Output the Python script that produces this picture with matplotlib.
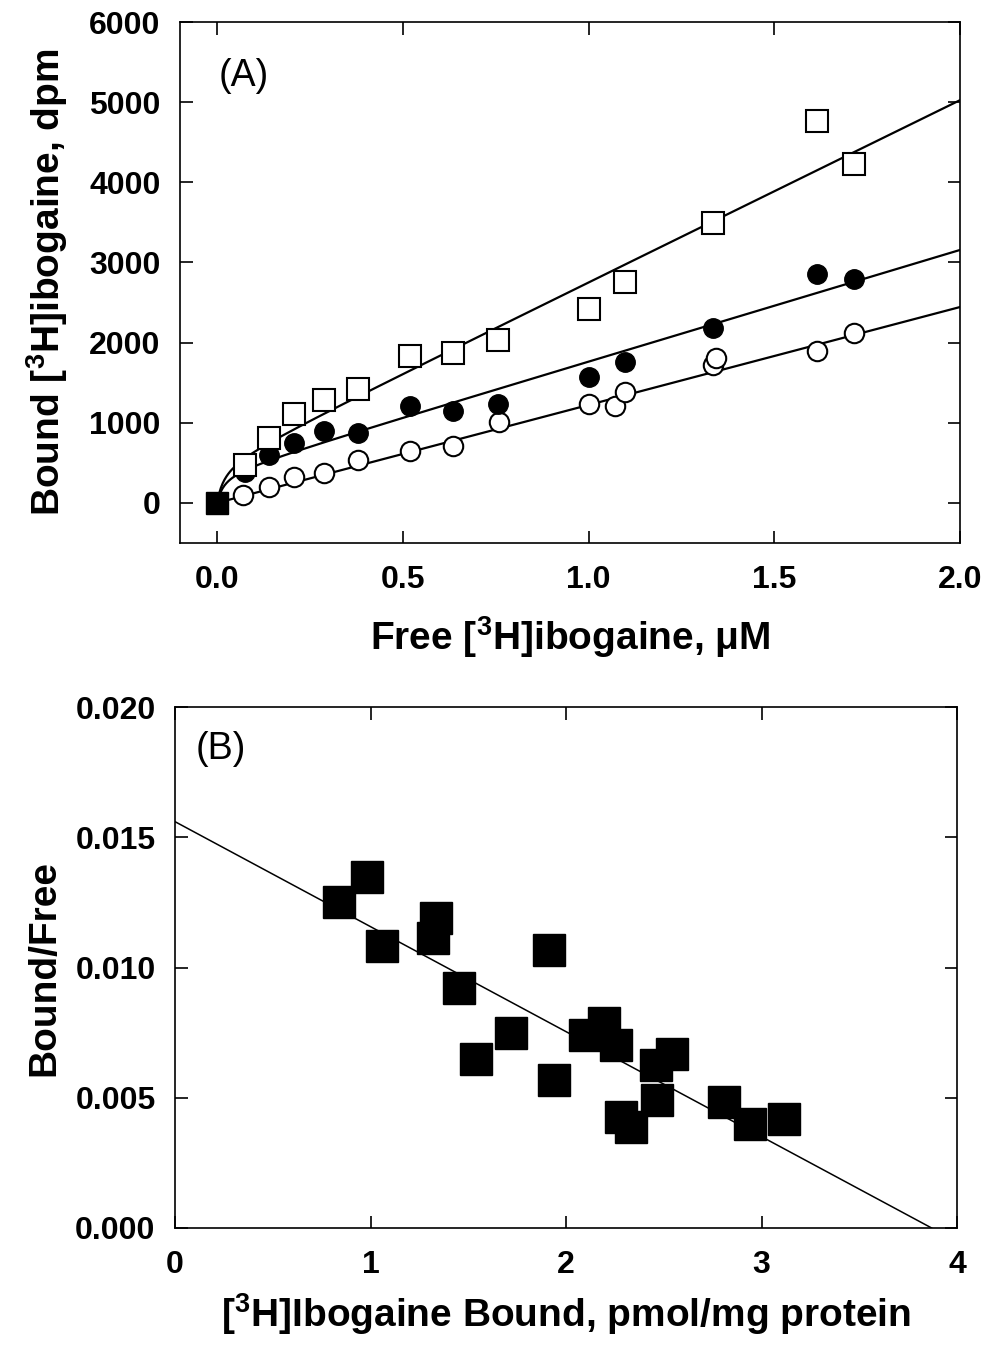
import numpy as np
import matplotlib
matplotlib.use("Agg")
import matplotlib.pyplot as plt

plt.rcParams['font.family'] = ['Liberation Sans', 'DejaVu Sans']
plt.rcParams['mathtext.fontset'] = 'custom'
plt.rcParams['mathtext.rm'] = 'Liberation Sans:bold'
plt.rcParams['mathtext.default'] = 'rm'

## Panel A: saturation data
free_sq = [0.074, 0.141, 0.208, 0.289, 0.379, 0.518, 0.635, 0.756, 1.0, 1.098, 1.335, 1.615, 1.714]
total = [470, 814, 1110, 1278, 1426, 1827, 1869, 2038, 2418, 2755, 3494, 4760, 4232]

free_fc = [0.074, 0.141, 0.208, 0.289, 0.379, 0.518, 0.635, 0.756, 1.0, 1.098, 1.335, 1.615, 1.714]
mid = [380, 603, 751, 899, 878, 1215, 1152, 1236, 1574, 1764, 2177, 2861, 2797]

free_oc = [0.07, 0.141, 0.208, 0.289, 0.379, 0.518, 0.635, 0.76, 1.0, 1.071, 1.098, 1.335, 1.344, 1.615, 1.714]
nonspec = [97, 200, 329, 371, 540, 646, 709, 1004, 1236, 1215, 1384, 1720, 1806, 1890, 2122]

## fitted parameters (one site + linear)
fit_total = (490, 0.02, 2270)   # Bmax, Kd, slope
fit_mid = (380, 0.02, 1390)
fit_ns = (0, 0.02, 1222)

## Panel B: Scatchard data
bound_b = [0.838, 0.983, 1.06, 1.337, 1.321, 1.45, 1.538, 1.721, 1.911, 1.94,
           2.098, 2.192, 2.258, 2.282, 2.33, 2.459, 2.541, 2.467, 2.808, 2.94, 3.117]
ratio_b = [0.0125, 0.01349, 0.01081, 0.01192, 0.01115, 0.0092, 0.00647, 0.0075, 0.01068, 0.0057,
           0.0074, 0.00787, 0.00701, 0.00426, 0.00387, 0.00624, 0.00669, 0.0049, 0.00483, 0.004, 0.00419]
scat_intercept = 0.0156
scat_xint = 3.87


def fit_curve(x, p):
    bmax, kd, m = p
    return bmax * x / (kd + x) + m * x


def style_axes(ax):
    ax.tick_params(direction='in', length=9, width=1.2, top=True, right=True,
                   labelsize=23)
    ax.tick_params(axis='y', pad=14)
    ax.tick_params(axis='x', pad=16)
    for lab in ax.get_xticklabels() + ax.get_yticklabels():
        lab.set_fontweight('bold')
    for s in ax.spines.values():
        s.set_linewidth(1.2)


fig = plt.figure(figsize=(9.85, 13.45), dpi=100)

axA = fig.add_axes([0.1827, 0.5963, 0.7919, 0.3873])
xs = np.linspace(0, 2.0, 400)
for p in [fit_total, fit_mid, fit_ns]:
    axA.plot(xs, fit_curve(xs, p), color='black', lw=1.6)
axA.plot(free_oc, nonspec, 'o', ms=14, mfc='white', mec='black', mew=1.5)
axA.plot(free_fc, mid, 'o', ms=14, mfc='black', mec='black')
axA.plot(free_sq, total, 's', ms=16, mfc='white', mec='black', mew=1.5)
axA.plot([0], [0], 's', ms=16, mfc='black', mec='black')
axA.set_xlim(-0.1, 2.0)
axA.set_ylim(-500, 6000)
axA.set_xticks([0.0, 0.5, 1.0, 1.5, 2.0])
axA.set_xticklabels(['0.0', '0.5', '1.0', '1.5', '2.0'])
axA.set_yticks(range(0, 6001, 1000))
style_axes(axA)
axA.set_xlabel('Free [$^{3}$H]ibogaine, \u03bcM', fontsize=28, fontweight='bold', labelpad=14)
axA.set_ylabel('Bound [$^{3}$H]ibogaine, dpm', fontsize=28, fontweight='bold', labelpad=14)
axA.text(0.049, 0.896, '(A)', transform=axA.transAxes, fontsize=27, va='center')

axB = fig.add_axes([0.1777, 0.087, 0.7939, 0.3873])
xl = np.array([0, scat_xint])
axB.plot(xl, scat_intercept * (1 - xl / scat_xint), color='black', lw=1.1)
axB.plot(bound_b, ratio_b, 's', ms=23, mfc='black', mec='black')
axB.set_xlim(0, 4)
axB.set_ylim(0, 0.020)
axB.set_xticks([0, 1, 2, 3, 4])
axB.set_yticks([0.0, 0.005, 0.010, 0.015, 0.020])
axB.set_yticklabels(['0.000', '0.005', '0.010', '0.015', '0.020'])
style_axes(axB)
axB.set_xlabel('[$^{3}$H]Ibogaine Bound, pmol/mg protein', fontsize=28, fontweight='bold', labelpad=8)
axB.set_ylabel('Bound/Free', fontsize=28, fontweight='bold', labelpad=9)
axB.text(0.026, 0.92, '(B)', transform=axB.transAxes, fontsize=27, va='center')

fig.savefig('out.png', dpi=100)
